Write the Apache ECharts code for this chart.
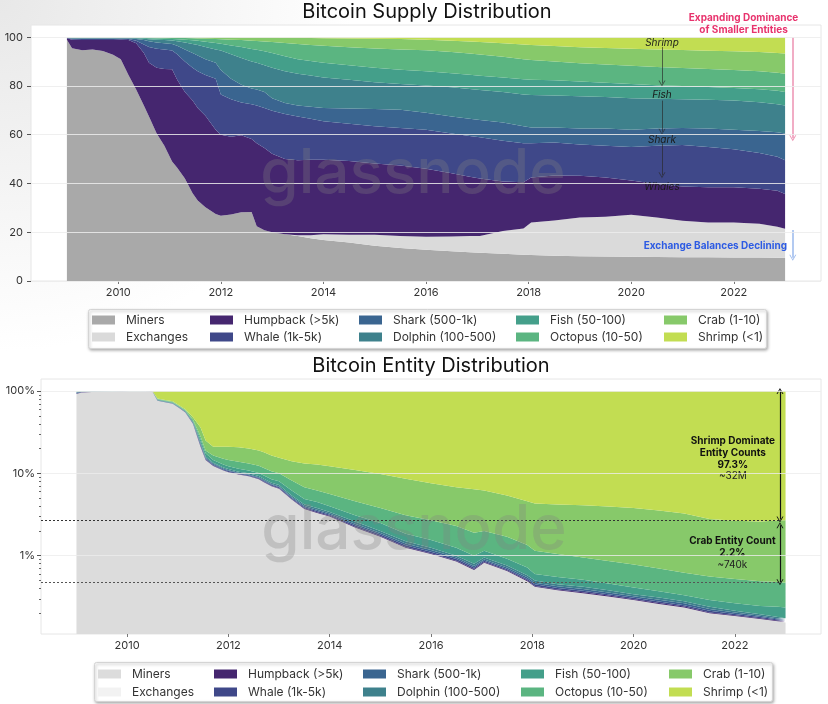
<!DOCTYPE html>
<html>
<head>
<meta charset="utf-8">
<script src="https://cdn.jsdelivr.net/npm/echarts@6/dist/echarts.min.js"></script>
<style>
  html, body { margin: 0; padding: 0; background: #fff; }
  #chart { width: 828px; height: 704px; }
</style>
</head>
<body>
<div id="chart"></div>
<script>
// sample dates (decimal years), shared by both panels
var years = [2009.0, 2009.1, 2009.3, 2009.5, 2009.7, 2009.9, 2010.05, 2010.2, 2010.35, 2010.5,
  2010.6, 2010.75, 2010.9, 2011.05, 2011.15, 2011.3, 2011.45, 2011.55, 2011.7, 2011.9,
  2012.0, 2012.2, 2012.4, 2012.6, 2012.7, 2012.85, 2013.0, 2013.25, 2013.5, 2013.75,
  2014.0, 2014.5, 2015.0, 2015.5, 2016.0, 2016.5, 2016.85, 2017.05, 2017.5, 2017.9,
  2018.05, 2018.5, 2019.0, 2019.5, 2020.0, 2020.5, 2021.0, 2021.5, 2022.0, 2022.5, 2022.85, 2023.0];

var xTickYears = [2010, 2012, 2014, 2016, 2018, 2020, 2022];
var supplyTicks = [0, 20, 40, 60, 80, 100];
var entityTicks = [1, 10, 100];
var entityMinorTicks = [0.2, 0.3, 0.4, 0.5, 0.6, 0.7, 0.8, 0.9, 2, 3, 4, 5, 6, 7, 8, 9, 20, 30, 40, 50, 60, 70, 80, 90];

var cohortNames = ['Miners', 'Exchanges', 'Humpback (>5k)', 'Whale (1k-5k)', 'Shark (500-1k)',
  'Dolphin (100-500)', 'Fish (50-100)', 'Octopus (10-50)', 'Crab (1-10)', 'Shrimp (<1)'];

// share of BTC supply held (%)
var supplyMiners = [99.0, 95.5, 94.6, 95.0, 94.3, 92.8, 91.0, 84.5, 78.5, 72.0, 67.5, 60.5, 55.5, 49.0, 46.5, 42.0, 36.0, 33.0, 30.2, 27.5,
  26.8, 27.3, 28.2, 28.3, 22.5, 20.8, 20.0, 19.2, 18.5, 17.5, 16.8, 15.8, 14.5, 13.5, 12.8, 12.2, 11.8, 11.6, 11.2, 10.8,
  10.7, 10.4, 10.2, 10.0, 9.9, 9.8, 9.7, 9.7, 9.6, 9.6, 9.5, 9.5];
var supplyExchanges = [0, 0, 0, 0, 0, 0, 0, 0, 0, 0, 0, 0, 0, 0, 0, 0, 0, 0, 0, 0,
  0, 0, 0, 0, 0, 0, 0, 0, 0.3, 1.3, 2.4, 3.2, 4.5, 5.0, 5.4, 6.1, 6.7, 6.9, 9.3, 10.7,
  13.3, 14.4, 15.8, 16.4, 17.3, 16.2, 15.0, 14.3, 14.4, 13.9, 12.8, 11.9];
var supplyHumpback = [0.6, 3.5, 4.2, 3.8, 4.5, 6.0, 8.0, 14.3, 19.0, 21.5, 22.0, 27.0, 31.5, 37.8, 36.0, 35.5, 38.0, 38.0, 37.6, 34.5,
  33.2, 31.9, 31.6, 29.9, 34.0, 33.7, 32.2, 30.8, 30.7, 30.9, 30.5, 30.2, 29.2, 28.9, 27.8, 25.9, 24.3, 23.5, 20.3, 19.0,
  18.5, 18.5, 17.2, 16.1, 14.0, 13.8, 14.1, 14.5, 14.5, 14.3, 14.7, 14.3];
var supplyWhale = [0.2, 0.3, 0.5, 0.5, 0.5, 0.5, 0.3, 0.5, 1.0, 3.5, 6.5, 7.8, 8.0, 7.7, 10.5, 12.5, 13.5, 15.0, 16.7, 21.0,
  16.5, 15.3, 13.4, 14.3, 15.5, 16.5, 17.6, 18.5, 18.0, 16.8, 15.8, 15.3, 15.3, 15.4, 16.0, 16.3, 16.7, 17.0, 16.7, 16.0,
  14.0, 13.5, 12.8, 13.0, 13.8, 15.7, 17.0, 16.5, 15.5, 14.7, 14.0, 13.8];
var supplyShark = [0.1, 0.2, 0.2, 0.2, 0.2, 0.2, 0.2, 0.2, 0.8, 1.8, 2.3, 2.5, 2.5, 2.7, 3.5, 5.0, 6.0, 6.5, 6.5, 6.5,
  10.0, 8.5, 7.3, 6.5, 6.5, 6.5, 5.2, 4.5, 4.5, 5.0, 5.5, 6.3, 7.0, 7.4, 7.0, 7.0, 7.0, 7.0, 7.5, 7.0,
  6.5, 6.2, 6.5, 7.0, 7.0, 7.0, 7.0, 7.5, 8.0, 9.0, 10.0, 11.0];
var supplyDolphin = [0.05, 0.2, 0.2, 0.2, 0.2, 0.2, 0.2, 0.2, 0.3, 0.6, 0.9, 1.2, 1.3, 1.4, 1.8, 2.8, 3.7, 4.3, 5.0, 5.5,
  8.0, 10.0, 11.0, 11.0, 11.0, 11.0, 12.5, 13.0, 13.0, 12.8, 12.5, 11.7, 11.0, 10.6, 11.2, 12.0, 12.3, 12.3, 12.5, 13.0,
  13.3, 13.1, 13.3, 13.0, 13.0, 12.3, 11.7, 11.8, 12.0, 11.8, 11.5, 11.5];
var supplyFish = [0.03, 0.15, 0.15, 0.15, 0.15, 0.15, 0.15, 0.15, 0.2, 0.3, 0.4, 0.5, 0.6, 0.7, 0.9, 1.2, 1.5, 1.7, 2.1, 2.6,
  2.8, 3.6, 4.5, 5.2, 5.3, 5.7, 6.0, 6.2, 6.0, 5.9, 6.0, 6.0, 6.0, 5.8, 5.8, 5.7, 5.8, 5.9, 6.0, 6.3,
  6.2, 6.2, 6.0, 5.8, 5.8, 5.5, 5.5, 5.3, 5.2, 5.3, 5.5, 5.5];
var supplyOctopus = [0.02, 0.07, 0.07, 0.07, 0.07, 0.07, 0.07, 0.07, 0.1, 0.18, 0.25, 0.32, 0.4, 0.45, 0.5, 0.65, 0.85, 1.0, 1.3, 1.7,
  1.9, 2.4, 2.8, 3.3, 3.6, 4.0, 4.5, 5.4, 6.2, 6.6, 7.0, 7.4, 7.9, 8.4, 8.6, 8.7, 8.7, 8.7, 8.5, 8.2,
  8.1, 7.7, 7.5, 7.5, 7.5, 7.5, 7.4, 7.4, 7.3, 7.4, 7.4, 7.5];
var supplyCrab = [0, 0.08, 0.08, 0.08, 0.08, 0.08, 0.08, 0.08, 0.1, 0.1, 0.13, 0.16, 0.18, 0.23, 0.28, 0.33, 0.43, 0.48, 0.57, 0.66,
  0.75, 0.93, 1.1, 1.38, 1.47, 1.65, 1.83, 2.18, 2.52, 2.87, 3.1, 3.6, 4.0, 4.3, 4.4, 4.6, 4.9, 5.1, 5.5, 6.0,
  6.2, 6.4, 6.6, 6.8, 7.0, 7.2, 7.3, 7.4, 7.7, 7.9, 8.1, 8.3];
var supplyShrimp = [0, 0, 0, 0, 0, 0, 0, 0, 0, 0.02, 0.02, 0.02, 0.02, 0.02, 0.02, 0.02, 0.02, 0.02, 0.03, 0.04,
  0.05, 0.07, 0.1, 0.12, 0.13, 0.15, 0.17, 0.22, 0.28, 0.33, 0.4, 0.5, 0.6, 0.7, 1.0, 1.5, 1.8, 2.0, 2.5, 3.0,
  3.2, 3.6, 4.1, 4.4, 4.7, 5.0, 5.3, 5.6, 5.8, 6.1, 6.5, 6.7];

// share of entity count (%)
var entityMiners = [92, 96, 97.5, 98.0, 98.5, 99.0, 99.3, 99.4, 99.5, 99.0, 76, 73, 70, 61, 55, 40, 21, 14.5, 12.3, 10.8,
  10.3, 9.7, 9.2, 8.5, 7.8, 7.0, 6.5, 4.8, 3.7, 3.3, 3.0, 2.2, 1.7, 1.25, 1.05, 0.85, 0.67, 0.82, 0.65, 0.49,
  0.42, 0.38, 0.35, 0.32, 0.29, 0.26, 0.235, 0.2, 0.185, 0.17, 0.16, 0.155];
var entityExchanges = [0, 0, 0, 0, 0, 0, 0, 0, 0, 0, 0, 0, 0, 0, 0, 0, 0, 0, 0, 0,
  0, 0, 0, 0, 0, 0, 0, 0, 0, 0, 0, 0, 0, 0, 0, 0, 0, 0, 0, 0, 0, 0, 0, 0, 0, 0, 0, 0, 0, 0, 0, 0];
var entityHumpback = [1.0, 0.5, 0.3, 0.25, 0.2, 0.12, 0.08, 0.07, 0.06, 0.1, 0.3, 0.2, 0.2, 0.2, 0.2, 0.3, 0.4, 0.2, 0.15, 0.12,
  0.12, 0.1, 0.1, 0.1, 0.1, 0.09, 0.09, 0.08, 0.06, 0.06, 0.05, 0.05, 0.04, 0.03, 0.02, 0.02, 0.02, 0.02, 0.015, 0.012,
  0.01, 0.01, 0.01, 0.008, 0.007, 0.007, 0.006, 0.005, 0.004, 0.004, 0.003, 0.003];
var entityWhale = [1.5, 0.8, 0.5, 0.4, 0.3, 0.2, 0.14, 0.12, 0.1, 0.2, 0.5, 0.35, 0.35, 0.35, 0.35, 0.5, 0.7, 0.35, 0.3, 0.25,
  0.25, 0.2, 0.2, 0.2, 0.2, 0.17, 0.17, 0.14, 0.12, 0.12, 0.1, 0.1, 0.07, 0.06, 0.05, 0.04, 0.03, 0.03, 0.025, 0.02,
  0.02, 0.015, 0.015, 0.013, 0.011, 0.011, 0.01, 0.009, 0.007, 0.006, 0.005, 0.005];
var entityShark = [1.5, 0.8, 0.5, 0.4, 0.3, 0.2, 0.14, 0.12, 0.1, 0.2, 0.5, 0.4, 0.4, 0.4, 0.4, 0.5, 0.8, 0.4, 0.3, 0.25,
  0.25, 0.2, 0.2, 0.2, 0.2, 0.18, 0.18, 0.15, 0.13, 0.13, 0.1, 0.1, 0.08, 0.07, 0.05, 0.04, 0.03, 0.03, 0.03, 0.025,
  0.02, 0.02, 0.02, 0.017, 0.014, 0.014, 0.013, 0.011, 0.008, 0.007, 0.005, 0.005];
var entityDolphin = [2.0, 1.0, 0.6, 0.5, 0.35, 0.25, 0.17, 0.15, 0.12, 0.25, 0.7, 0.55, 0.55, 0.55, 0.55, 0.7, 1.1, 0.55, 0.45, 0.38,
  0.38, 0.3, 0.3, 0.3, 0.3, 0.26, 0.26, 0.23, 0.19, 0.19, 0.15, 0.15, 0.11, 0.09, 0.08, 0.05, 0.05, 0.05, 0.04, 0.033,
  0.03, 0.025, 0.025, 0.022, 0.018, 0.018, 0.016, 0.015, 0.011, 0.008, 0.007, 0.006];
var entityFish = [1.0, 0.5, 0.35, 0.27, 0.2, 0.13, 0.09, 0.08, 0.07, 0.13, 1.0, 1.0, 1.0, 1.0, 1.0, 1.5, 2.0, 1.5, 1.0, 1.0,
  0.9, 0.9, 0.8, 0.8, 0.8, 0.8, 0.8, 0.8, 0.7, 0.7, 0.6, 0.5, 0.5, 0.35, 0.3, 0.25, 0.2, 0.2, 0.16, 0.14,
  0.1, 0.1, 0.09, 0.08, 0.07, 0.06, 0.05, 0.05, 0.05, 0.05, 0.06, 0.061];
var entityOctopus = [0.7, 0.3, 0.2, 0.15, 0.12, 0.08, 0.06, 0.05, 0.04, 0.08, 1.0, 1.0, 1.0, 1.0, 1.0, 1.5, 2.0, 1.5, 2.0, 2.2,
  2.3, 2.4, 2.4, 2.3, 2.2, 2.1, 2.0, 2.0, 1.9, 1.7, 1.6, 1.5, 1.3, 1.25, 1.15, 1.05, 0.9, 0.85, 0.78, 0.63,
  0.55, 0.5, 0.44, 0.4, 0.37, 0.33, 0.29, 0.27, 0.255, 0.245, 0.24, 0.235];
var entityCrab = [0.3, 0.1, 0.05, 0.03, 0.03, 0.02, 0.02, 0.01, 0.01, 0.04, 1.0, 1.5, 1.5, 1.5, 1.5, 3.0, 8.0, 6.0, 4.5, 6.0,
  6.5, 7.0, 6.8, 6.6, 6.4, 5.9, 5.5, 5.8, 6.4, 6.6, 6.6, 6.4, 6.0, 5.5, 4.9, 4.5, 4.5, 4.2, 3.7, 3.25,
  3.15, 3.15, 3.15, 3.09, 3.02, 2.85, 2.63, 2.24, 2.13, 2.11, 2.2, 2.23];
var entityShrimp = [0, 0, 0, 0, 0, 0, 0, 0, 0, 0, 19, 22, 25, 34, 40, 52, 64, 75, 79, 79,
  79, 79.2, 80, 81, 82, 83.5, 84.5, 86, 86.8, 87.2, 87.8, 89, 90.2, 91.4, 92.4, 93.2, 93.6, 93.8, 94.6, 95.4,
  95.7, 95.8, 95.9, 96.05, 96.2, 96.45, 96.75, 97.2, 97.35, 97.4, 97.32, 97.3];

var supplyValues = [supplyMiners, supplyExchanges, supplyHumpback, supplyWhale, supplyShark,
  supplyDolphin, supplyFish, supplyOctopus, supplyCrab, supplyShrimp];
var entityValues = [entityMiners, entityExchanges, entityHumpback, entityWhale, entityShark,
  entityDolphin, entityFish, entityOctopus, entityCrab, entityShrimp];

var cohortColors = ['#45266f', '#3f4889', '#3a6590', '#3e818c', '#449f8a', '#5bb581', '#87c96a', '#c2dd52'];
var supplyColors = ['#a9a9a9', '#dadada'].concat(cohortColors);
var entityColors = ['#dcdcdc', '#f2f2f2'].concat(cohortColors);

var FONT = 'Inter, "Noto Sans", sans-serif';
var chevron = 'path://M0,8L5,0L10,8L8.6,8L5,2.2L1.4,8Z';

// value first, year second: the stack then lands on the value dimension
function toPoints(vals) {
  var pts = [];
  for (var i = 0; i < years.length; i++) pts.push([vals[i], years[i]]);
  return pts;
}

function areaSeries(name, vals, color, xi, yi, stack) {
  return {
    name: name, type: 'line', xAxisIndex: xi, yAxisIndex: yi, stack: stack,
    data: toPoints(vals), encode: { x: 1, y: 0 },
    symbol: 'none', showSymbol: false, silent: true,
    lineStyle: { width: 0, opacity: 0 },
    itemStyle: { color: color },
    areaStyle: { color: color, opacity: 1, origin: 'start' },
    emphasis: { disabled: true }
  };
}

function arrow(x1, y1, x2, y2, color, width, both) {
  return [
    { coord: [x1, y1], symbol: both ? chevron : 'none', symbolSize: [7, 6], lineStyle: { color: color, width: width, type: 'solid' } },
    { coord: [x2, y2], symbol: chevron, symbolSize: [7, 6] }
  ];
}

function note(x, y, label) {
  return {
    coord: [x, y], symbol: 'circle', symbolSize: 0,
    itemStyle: { color: 'rgba(0,0,0,0)' },
    label: Object.assign({ show: true, position: 'inside', fontFamily: FONT }, label)
  };
}

function buildLegends(colors, lefts, rowTops) {
  var out = [];
  for (var i = 0; i < cohortNames.length; i++) {
    out.push({
      data: [{ name: cohortNames[i], itemStyle: { color: colors[i], borderWidth: 0 } }],
      left: lefts[Math.floor(i / 2)], top: rowTops[i % 2],
      padding: 0, icon: 'rect', itemWidth: 23, itemHeight: 9,
      selectedMode: false,
      textStyle: { fontSize: 12, color: '#333', fontFamily: FONT, padding: [0, 0, 0, 6] }
    });
  }
  return out;
}

var series = [];
for (var i = 0; i < cohortNames.length; i++) {
  series.push(areaSeries(cohortNames[i], supplyValues[i], supplyColors[i], 0, 0, 'supply'));
}
for (var j = 0; j < cohortNames.length; j++) {
  series.push(areaSeries(cohortNames[j], entityValues[j], entityColors[j], 1, 1, 'entity'));
}

// annotations, top panel
var topAnno = series[9];
topAnno.clip = false;
topAnno.markLine = {
  silent: true, symbol: ['none', 'none'], label: { show: false },
  data: [
    arrow(2020.6, 96.0, 2020.6, 81.0, 'rgba(40,40,40,0.65)', 1, false),
    arrow(2020.6, 74.0, 2020.6, 61.2, 'rgba(40,40,40,0.65)', 1, false),
    arrow(2020.6, 56.4, 2020.6, 43.4, 'rgba(40,40,40,0.65)', 1, false),
    arrow(2023.15, 100, 2023.15, 58.6, 'rgba(230,100,145,0.7)', 1.5, false),
    arrow(2023.15, 20.9, 2023.15, 9.5, 'rgba(120,160,230,0.75)', 1.5, false)
  ]
};
var italic = { fontStyle: 'italic', fontSize: 10, color: '#1a1a1a' };
topAnno.markPoint = {
  silent: true,
  data: [
    note(2020.6, 97.8, Object.assign({ formatter: 'Shrimp' }, italic)),
    note(2020.6, 76.1, Object.assign({ formatter: 'Fish' }, italic)),
    note(2020.6, 57.9, Object.assign({ formatter: 'Shark' }, italic)),
    note(2020.6, 38.7, Object.assign({ formatter: 'Whales' }, italic)),
    note(2022.19, 104.9, { formatter: 'Expanding Dominance\nof Smaller Entities', fontSize: 10, fontWeight: 'bold', color: '#e8336d', lineHeight: 12, align: 'center', offset: [0, -1.5] }),
    note(2021.64, 14.4, { formatter: 'Exchange Balances Declining', fontSize: 10, fontWeight: 'bold', color: '#2d5be3' })
  ]
};

// annotations, bottom panel
var botAnno = series[19];
botAnno.clip = false;
botAnno.markLine = {
  silent: true, symbol: ['none', 'none'], label: { show: false },
  data: [
    [{ coord: [2008.3, 2.7], symbol: 'none', lineStyle: { color: '#333', width: 1, type: [2, 2] } }, { coord: [2022.89, 2.7], symbol: 'none' }],
    [{ coord: [2008.3, 0.47], symbol: 'none', lineStyle: { color: '#555', width: 1, type: [2, 2] } }, { coord: [2022.89, 0.47], symbol: 'none' }],
    arrow(2022.89, 100, 2022.89, 2.75, '#111', 1.2, true),
    arrow(2022.89, 2.35, 2022.89, 0.475, '#111', 1.2, true)
  ]
};
var rich = {
  b: { fontWeight: 'bold', fontSize: 10, lineHeight: 11.8, color: '#111', fontFamily: FONT },
  n: { fontSize: 10, lineHeight: 11.8, color: '#222', fontFamily: FONT }
};
botAnno.markPoint = {
  silent: true,
  data: [
    note(2021.96, 15.1, { formatter: '{b|Shrimp Dominate}\n{b|Entity Counts}\n{b|97.3%}\n{n|~32M}', rich: rich, align: 'center' }),
    note(2021.95, 1.07, { formatter: '{b|Crab Entity Count}\n{b|2.2%}\n{n|~740k}', rich: rich, align: 'center' })
  ]
};

function xAxisFor(gi) {
  return {
    gridIndex: gi, type: 'value', min: 2008.3, max: 2023.7,
    axisLine: { show: false }, splitLine: { show: false },
    axisTick: { show: true, length: 3, customValues: xTickYears, lineStyle: { color: '#777' } },
    axisLabel: { customValues: xTickYears, fontSize: 11, color: '#333', margin: 6, fontFamily: FONT,
      formatter: function (v) { return String(v); } }
  };
}

var option = {
  animation: false,
  backgroundColor: '#ffffff',
  title: [
    { text: 'Bitcoin Supply Distribution', left: 427, top: 2, padding: 0, textAlign: 'center',
      textStyle: { fontSize: 20, fontWeight: 'normal', color: '#111', fontFamily: FONT } },
    { text: 'Bitcoin Entity Distribution', left: 431, top: 356, padding: 0, textAlign: 'center',
      textStyle: { fontSize: 20, fontWeight: 'normal', color: '#111', fontFamily: FONT } }
  ],
  grid: [
    { left: 31, right: 7, top: 25, height: 256, show: true, backgroundColor: '#fff', borderColor: '#e6e6e6', borderWidth: 1 },
    { left: 41, right: 7, top: 379, height: 255, show: true, backgroundColor: '#fff', borderColor: '#e6e6e6', borderWidth: 1 }
  ],
  xAxis: [xAxisFor(0), xAxisFor(1)],
  yAxis: [
    { gridIndex: 0, type: 'value', min: 0, max: 105, interval: 20, z: 10,
      axisLine: { show: false },
      axisTick: { show: true, length: 4, customValues: supplyTicks, lineStyle: { color: '#555' } },
      axisLabel: { customValues: supplyTicks, fontSize: 11, color: '#333', margin: 8, fontFamily: FONT },
      splitLine: { show: true, lineStyle: { color: 'rgba(236,236,236,0.85)', width: 1 } } },
    { gridIndex: 1, type: 'log', logBase: 10, min: 0.112, max: 140, z: 10,
      axisLine: { show: false },
      axisTick: { show: true, length: 4, customValues: entityTicks, lineStyle: { color: '#555' } },
      axisLabel: { customValues: entityTicks, fontSize: 11, color: '#333', margin: 6, fontFamily: FONT,
        formatter: function (v) { return v + '%'; } },
      splitLine: { show: true, lineStyle: { color: 'rgba(236,236,236,0.8)', width: 1 } } },
    { gridIndex: 1, type: 'log', logBase: 10, min: 0.112, max: 140, position: 'left', z: 10,
      axisLine: { show: false }, axisLabel: { show: false }, splitLine: { show: false },
      axisTick: { show: true, length: 2, customValues: entityMinorTicks, lineStyle: { color: '#666' } } }
  ],
  legend: buildLegends(supplyColors, [92, 210, 359, 516, 664], [314, 331])
    .concat(buildLegends(entityColors, [98, 214, 363, 521, 669], [668, 686])),
  graphic: [
    { type: 'rect', z: -10, silent: true, shape: { x: 0, y: 0, width: 828, height: 704 },
      style: { fill: { type: 'radial', x: 0, y: 0, r: 0.5, colorStops: [{ offset: 0, color: '#e8e8e8' }, { offset: 1, color: '#ffffff' }] } } },
    { type: 'rect', z: 1, silent: true, shape: { x: 88.5, y: 309.5, width: 678, height: 39, r: 2 },
      style: { fill: '#fff', stroke: '#d4d4d4', lineWidth: 1, shadowBlur: 3, shadowOffsetX: 1, shadowOffsetY: 1.5, shadowColor: 'rgba(0,0,0,0.3)' } },
    { type: 'rect', z: 1, silent: true, shape: { x: 94.5, y: 662.5, width: 678, height: 39, r: 2 },
      style: { fill: '#fff', stroke: '#d4d4d4', lineWidth: 1, shadowBlur: 3, shadowOffsetX: 1, shadowOffsetY: 1.5, shadowColor: 'rgba(0,0,0,0.3)' } },
    { type: 'text', z: 100, silent: true, x: 413, y: 174,
      style: { text: 'glassnode', font: '500 62px ' + FONT, fill: 'rgba(128,128,128,0.3)', align: 'center', verticalAlign: 'middle' } },
    { type: 'text', z: 100, silent: true, x: 414, y: 530,
      style: { text: 'glassnode', font: '500 62px ' + FONT, fill: 'rgba(128,128,128,0.3)', align: 'center', verticalAlign: 'middle' } }
  ],
  series: series
};

var chart = echarts.init(document.getElementById('chart'));
chart.setOption(option);
window.addEventListener('resize', function () { chart.resize(); });
</script>
</body>
</html>
